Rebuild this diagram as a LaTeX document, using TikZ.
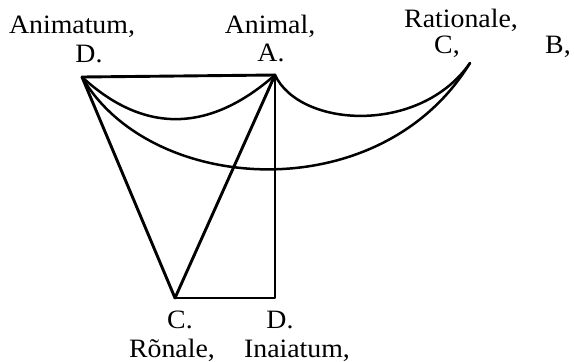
\documentclass[tikz,border=0pt]{standalone}
\usepackage{fontspec}
\setmainfont[FakeStretch=1.05]{Liberation Serif}
\begin{document}
\begin{tikzpicture}[x=1pt,y=-1pt,
  lbl/.style={anchor=base,inner sep=0pt,font=\fontsize{26.5}{30}\selectfont},
  ln/.style={line width=2.9pt,line cap=round,line join=round},
  arc/.style={line width=2.5pt,line cap=round}]
\useasboundingbox (0,0) rectangle (574,362);
\coordinate (D) at (82,77);
\coordinate (A) at (275,75);
\coordinate (E) at (470,63);
\coordinate (C) at (175,298);
\coordinate (F) at (275,298);
% straight lines
\draw[ln] (D) -- (A);
\draw[ln] (D) -- (C) -- (A);
\draw[ln] (A) -- (F) -- (C);
% arcs
\draw[arc] (D) .. controls (144,134) and (209,133) .. (A);
\draw[arc] (A) .. controls (300,128) and (420,135) .. (E);
\draw[arc] (D) .. controls (150,195) and (380,210) .. (E);
% labels
\node[lbl] (l1) at (72,33) {Animatum,};
\node[lbl] (l2) at (89,62) {D.};
\node[lbl] (l3) at (270,33) {Animal,};
\node[lbl] (l4) at (271,61) {A.};
\node[lbl] (l5) at (461,27) {Rationale,};
\node[lbl] (l6) at (447,53) {C,};
\node[lbl] (l7) at (558,53) {B,};
\node[lbl] (l8) at (180,328) {C.};
\node[lbl] (l9) at (280,328) {D.};
\node[lbl] (l10) at (172,357) {Rõnale,};
\node[lbl] (l11) at (297,357) {Inaiatum,};
\end{tikzpicture}
\end{document}
